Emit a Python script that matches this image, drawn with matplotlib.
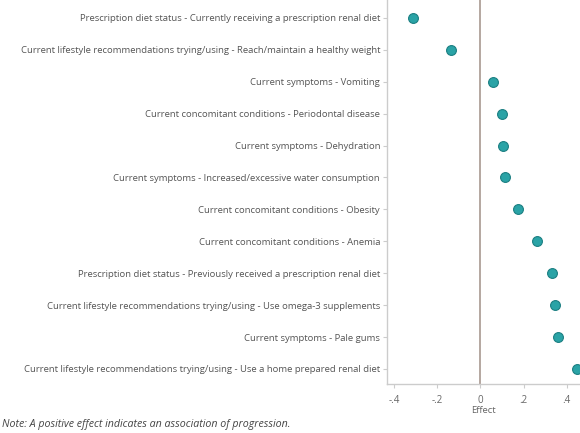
import matplotlib.pyplot as plt

# variables, top to bottom
labels = [
    "Prescription diet status - Currently receiving a prescription renal diet",
    "Current lifestyle recommendations trying/using - Reach/maintain a healthy weight",
    "Current symptoms - Vomiting",
    "Current concomitant conditions - Periodontal disease",
    "Current symptoms - Dehydration",
    "Current symptoms - Increased/excessive water consumption",
    "Current concomitant conditions - Obesity",
    "Current concomitant conditions - Anemia",
    "Prescription diet status - Previously received a prescription renal diet",
    "Current lifestyle recommendations trying/using - Use omega-3 supplements",
    "Current symptoms - Pale gums",
    "Current lifestyle recommendations trying/using - Use a home prepared renal diet",
]
effects = [-0.313, -0.138, 0.057, 0.101, 0.107, 0.113, 0.174, 0.264, 0.333, 0.347, 0.358, 0.447]
xticks = [-0.4, -0.2, 0, 0.2, 0.4]
xticklabels = ["-.4", "-.2", "0", ".2", ".4"]

plt.rcParams['font.family'] = ['Open Sans', 'DejaVu Sans']

fig = plt.figure(figsize=(5.8, 4.33), dpi=100)
ax = fig.add_axes([387/580, 1 - 384/433, 1 - 387/580, 384/433])

ypos = list(range(len(labels)))
ax.axvline(0, color='#a89890', lw=1.2, zorder=1)
ax.scatter(effects, ypos, s=50, color='#2aa3a6', edgecolor='#1c7f82', linewidth=0.8, zorder=3)

ax.set_ylim(11.47, -0.56)
ax.set_xlim(-0.433, 0.462)
ax.set_yticks(ypos)
ax.set_yticklabels(labels, fontsize=6.82, color='#555555')
ax.set_xticks(xticks)
ax.set_xticklabels(xticklabels, fontsize=7, color='#666666')
ax.set_xlabel('Effect', fontsize=6.8, color='#666666', labelpad=0)

for s in ['top', 'right']:
    ax.spines[s].set_visible(False)
for s in ['left', 'bottom']:
    ax.spines[s].set_color('#cccccc')
    ax.spines[s].set_linewidth(1.0)
ax.tick_params(axis='both', colors='#cccccc', length=3, width=0.8)
ax.tick_params(axis='y', labelcolor='#555555', pad=2)
ax.tick_params(axis='x', labelcolor='#666666', pad=5)

fig.text(0.003, 1 - 424/433, 'Note: A positive effect indicates an association of progression.',
         fontsize=7.7, style='italic', color='#444444', va='center')

fig.savefig('out.png', dpi=100)
